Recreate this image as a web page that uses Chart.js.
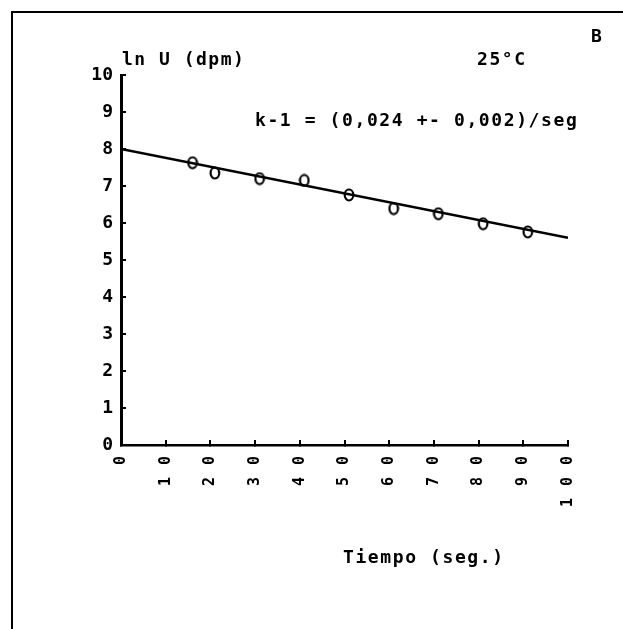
<!DOCTYPE html>
<html lang="es">
<head>
  <meta charset="UTF-8" />
  <title>ln U frente a Tiempo, 25°C</title>
  <script src="https://cdn.jsdelivr.net/npm/chart.js@4.4.0/dist/chart.umd.min.js"></script>
  <style>
    html, body { margin: 0; padding: 0; background: #fff; }
    #wrap { position: relative; width: 623px; height: 629px; }
  </style>
</head>
<body>
  <div id="wrap"><canvas id="chart"></canvas></div>

  <script>
    // measured points: tiempo (seg) vs ln U (dpm)
    const tiempo = [16, 21, 31, 41, 51, 61, 71, 81, 91];
    const lnU = [7.63, 7.35, 7.20, 7.15, 6.76, 6.39, 6.25, 5.98, 5.76];

    // fitted line, k-1 = 0,024 /seg
    const fitX = [0, 100];
    const fitY = [8.0, 5.6];

    const xTicks = [0, 10, 20, 30, 40, 50, 60, 70, 80, 90, 100];
    const yTicks = [0, 1, 2, 3, 4, 5, 6, 7, 8, 9, 10];

    const yTitle = 'ln U (dpm)';
    const xTitle = 'Tiempo (seg.)';
    const tempLabel = '25°C';
    const panelLabel = 'B';
    const rateLabel = 'k-1 = (0,024 +- 0,002)/seg';

    const MONO = "'DejaVu Sans Mono', 'Liberation Mono', monospace";

    // small open "0"-like marker
    function makeMarker() {
      const c = document.createElement('canvas');
      c.width = 12;
      c.height = 14;
      const g = c.getContext('2d');
      g.strokeStyle = '#000';
      g.lineWidth = 2.2;
      g.beginPath();
      g.ellipse(6, 7, 4.3, 5.5, 0, 0, Math.PI * 2);
      g.stroke();
      return c;
    }

    function drawText(ctx, text, x, y, spacing) {
      ctx.letterSpacing = spacing + 'px';
      ctx.fillText(text, x, y);
    }

    const decor = {
      id: 'decor',
      beforeDraw(chart) {
        chart.ctx.letterSpacing = '0px';
      },
      afterDatasetsDraw(chart) {
        // x tick labels are drawn after this (z = 1), wide spaced like the plotter
        chart.ctx.letterSpacing = '12px';
      },
      afterDraw(chart) {
        const ctx = chart.ctx;
        ctx.save();
        ctx.letterSpacing = '0px';

        // page frame
        ctx.strokeStyle = '#000';
        ctx.lineWidth = 2;
        ctx.beginPath();
        ctx.moveTo(623, 12);
        ctx.lineTo(12, 12);
        ctx.lineTo(12, 629);
        ctx.stroke();

        ctx.fillStyle = '#000';
        ctx.font = 'bold 18px ' + MONO;
        ctx.textBaseline = 'alphabetic';
        ctx.textAlign = 'left';
        drawText(ctx, yTitle, 122, 65, 1.5);
        drawText(ctx, tempLabel, 477, 65, 1.6);
        drawText(ctx, panelLabel, 591, 42, 0);
        drawText(ctx, rateLabel, 255, 126, 1.6);
        drawText(ctx, xTitle, 343, 563, 1.6);

        ctx.restore();
        ctx.letterSpacing = '0px';
      }
    };

    new Chart(document.getElementById('chart'), {
      type: 'scatter',
      data: {
        datasets: [
          {
            label: 'ajuste',
            data: fitX.map((x, i) => ({ x, y: fitY[i] })),
            showLine: true,
            borderColor: '#000',
            borderWidth: 2.5,
            pointRadius: 0,
            order: 2
          },
          {
            label: 'ln U',
            data: tiempo.map((x, i) => ({ x, y: lnU[i] })),
            pointStyle: makeMarker(),
            pointRadius: 6,
            order: 1
          }
        ]
      },
      options: {
        responsive: true,
        maintainAspectRatio: false,
        animation: false,
        layout: { padding: { top: 75, right: 55, left: 0, bottom: 0 } },
        plugins: {
          legend: { display: false },
          tooltip: { enabled: false }
        },
        scales: {
          x: {
            type: 'linear',
            min: 0,
            max: 100,
            afterBuildTicks: s => { s.ticks = xTicks.map(v => ({ value: v })); },
            afterFit: s => { s.height = 629 - 445; },
            border: { color: '#000', width: 2.5 },
            grid: {
              drawOnChartArea: false,
              color: '#000',
              lineWidth: 2,
              tickLength: -5
            },
            ticks: {
              z: 1,
              minRotation: 90,
              maxRotation: 90,
              autoSkip: false,
              padding: 4,
              color: '#000',
              font: { family: MONO, size: 15, weight: 'bold' }
            }
          },
          y: {
            type: 'linear',
            min: 0,
            max: 10,
            afterBuildTicks: s => { s.ticks = yTicks.map(v => ({ value: v })); },
            afterFit: s => { s.width = 121; },
            border: { color: '#000', width: 3 },
            grid: {
              z: -1,
              drawOnChartArea: false,
              color: '#000',
              lineWidth: 2,
              tickLength: -5
            },
            ticks: {
              z: -1,
              padding: 13,
              color: '#000',
              font: { family: MONO, size: 18, weight: 'bold' }
            }
          }
        }
      },
      plugins: [decor]
    });
  </script>
</body>
</html>
